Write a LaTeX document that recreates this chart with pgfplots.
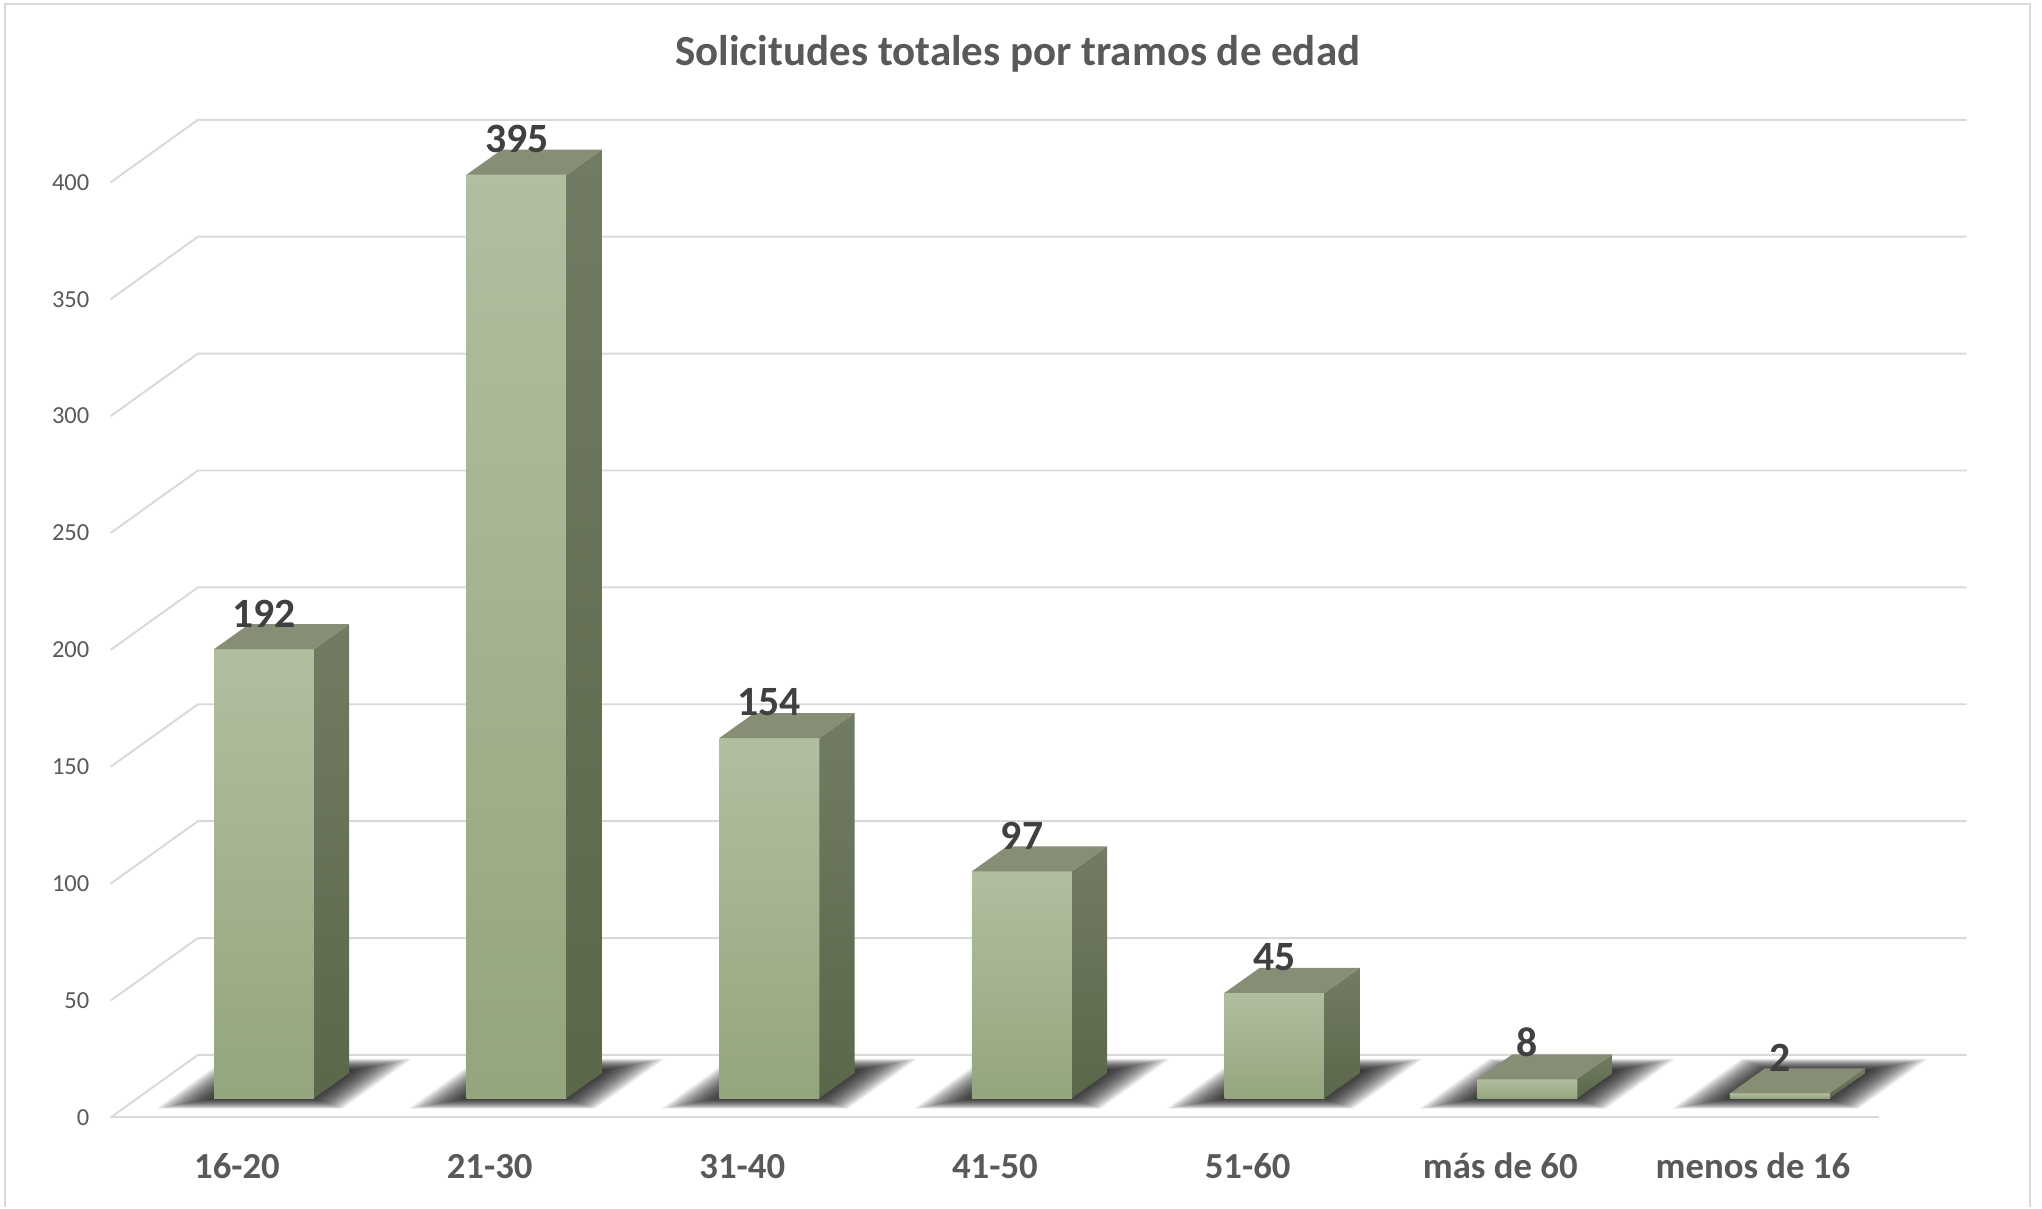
\documentclass[border=0pt]{standalone}
\usepackage{fontspec}
\setmainfont{Carlito}
\usepackage{pgfplots}
\usepackage{pgfplotstable}
\pgfplotsset{compat=1.18}

\definecolor{gridc}{HTML}{D9D9D9}
\definecolor{txt}{HTML}{595959}
\definecolor{lbl}{HTML}{404040}
\definecolor{fronttop}{HTML}{B1BEA0}
\definecolor{frontbot}{HTML}{94A67D}
\definecolor{sidetop}{HTML}{727C64}
\definecolor{sidebot}{HTML}{5A6749}
\definecolor{topc}{HTML}{868E76}

\pgfplotstableread{
x v
0 192
1 395
2 154
3 97
4 45
5 8
6 2
}\datatbl

\begin{document}
\begin{tikzpicture}
\begin{axis}[
  x=97pt, y=0.8975pt,
  xmin=-0.5, xmax=6.5, ymin=0, ymax=400,
  clip=false,
  axis x line*=bottom, axis y line*=left,
  axis line style={draw=none},
  major tick length=0pt,
  xtick={0,...,6},
  xticklabels={16-20,21-30,31-40,41-50,51-60,más de 60,menos de 16},
  ytick={0,50,...,400},
  x tick label style={font=\fontsize{14.1}{16}\selectfont\bfseries, text=txt, anchor=base, yshift=-23.3pt, inner sep=0pt},
  y tick label style={font=\fontsize{9.4}{11}\selectfont, text=txt, anchor=east, xshift=-8pt, inner sep=0pt},
  /pgf/number format/assume math mode=true,
  title={Solicitudes totales por tramos de edad},
  title style={font=\fontsize{16.5}{19}\selectfont\bfseries, text=txt, at={(0.5129,1.108)}, anchor=base, inner sep=0pt},
]
% bounding box and chart border
\addplot[draw=none, mark=none, forget plot] coordinates {(-0.938,-38.4) (7.144,478.0)};
\addplot[gridc, line width=0.75pt, mark=none, forget plot] coordinates {(-0.9175,-38.4) (-0.9175,476.3) (7.098,476.3) (7.098,-38.4)};

% walls: gridlines
\pgfplotsinvokeforeach{0,50,...,400}{
  \pgfmathsetmacro\gy{#1+26.74}
  \addplot[gridc, line width=0.75pt, mark=none, forget plot] coordinates {(-0.5,#1) (-0.1546,\gy) (6.8454,\gy)};
}
\addplot[gridc, line width=0.75pt, mark=none, forget plot] coordinates {(-0.5,0) (6.5,0)};

% soft shadows on the floor
\pgfplotsinvokeforeach{0,...,6}{
  \foreach \k in {0,...,21}{
    \pgfmathsetmacro\e{0.0085*\k}
    \pgfmathsetmacro\xa{#1-0.19-\e}
    \pgfmathsetmacro\xb{#1+0.19+\e}
    \pgfmathsetmacro\ta{0.31-0.95*\e}
    \pgfmathsetmacro\tb{0.75+1.05*\e}
    \pgfmathsetmacro\pa{\xa+\ta*0.3454}
    \pgfmathsetmacro\pb{\xb+\ta*0.3454}
    \pgfmathsetmacro\pc{\xb+\tb*0.3454}
    \pgfmathsetmacro\pd{\xa+\tb*0.3454}
    \pgfmathsetmacro\ya{\ta*26.74}
    \pgfmathsetmacro\yb{\tb*26.74}
    \addplot[draw=none, fill=black, fill opacity=0.066, mark=none, forget plot] coordinates {(\pa,\ya) (\pb,\ya) (\pc,\yb) (\pd,\yb)};
  }
}

% bars
\pgfplotsinvokeforeach{0,...,6}{
  \pgfplotstablegetelem{#1}{v}\of\datatbl
  \pgfmathsetmacro\V{\pgfplotsretval}
  \pgfmathsetmacro\xl{#1-0.091}
  \pgfmathsetmacro\xr{#1+0.305}
  \pgfmathsetmacro\xlb{#1+0.048}
  \pgfmathsetmacro\xrb{#1+0.444}
  \pgfmathsetmacro\yft{8.3+\V}
  \pgfmathsetmacro\ybt{19.0+\V}
  \addplot[draw=none, top color=fronttop, bottom color=frontbot, mark=none, forget plot] coordinates {(\xl,8.3) (\xr,8.3) (\xr,\yft) (\xl,\yft)};
  \addplot[draw=none, top color=sidetop, bottom color=sidebot, mark=none, forget plot] coordinates {(\xr,8.3) (\xrb,19.0) (\xrb,\ybt) (\xr,\yft)};
  \addplot[draw=none, fill=topc, mark=none, forget plot] coordinates {(\xl,\yft) (\xr,\yft) (\xrb,\ybt) (\xlb,\ybt)};
}

% data labels
\addplot[draw=none, mark=none, point meta=explicit, nodes near coords,
  nodes near coords style={font=\fontsize{16}{19}\selectfont\bfseries, text=lbl, anchor=south, inner sep=0pt}]
  table[x expr=\thisrow{x}+0.107, y expr=\thisrow{v}+17.5, meta=v] {\datatbl};
\end{axis}
\end{tikzpicture}
\end{document}
